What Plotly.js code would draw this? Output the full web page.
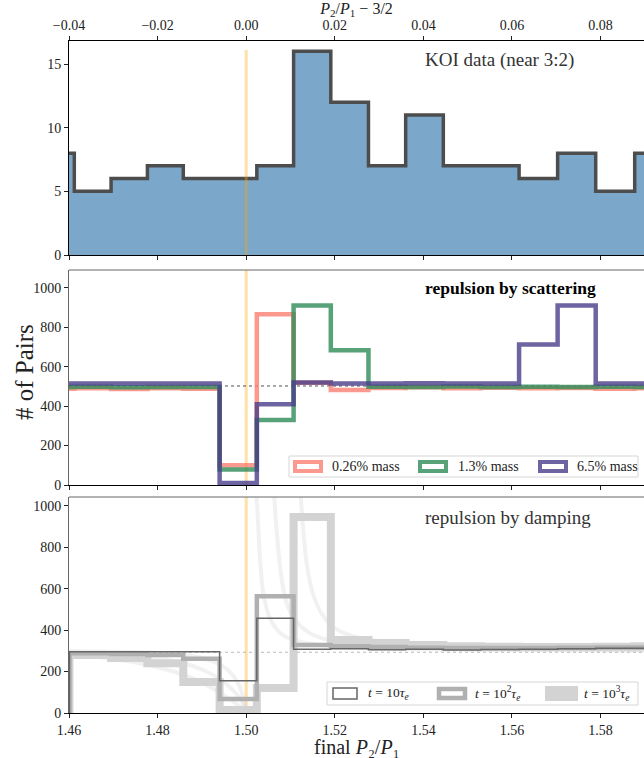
<!DOCTYPE html>
<html><head><meta charset="utf-8">
<script src="https://cdn.plot.ly/plotly-3.0.1.min.js"></script>
<style>html,body{margin:0;padding:0;background:#fff}#chart{width:644px;height:758px}</style>
</head><body><div id="chart"></div>
<script>
// ---------- data ----------
const binEdges = [1.4527, 1.4612, 1.4695, 1.4777, 1.4858, 1.4940, 1.5024, 1.5107, 1.5191, 1.5276, 1.5360, 1.5445, 1.5530, 1.5616, 1.5703, 1.5789, 1.5877, 1.5965];
const koiCounts = [8, 5, 6, 7, 6, 6, 7, 16, 12, 7, 11, 7, 7, 6, 8, 5, 8];

const scatterLabels = ['0.26% mass', '1.3% mass', '6.5% mass'];
const scatterLow  = [488, 490, 487, 490, 488, 100, 866, 518, 482, 492, 495, 490, 493, 490, 492, 488, 490];
const scatterMid  = [497, 498, 496, 497, 497, 78, 330, 910, 683, 498, 497, 499, 497, 498, 497, 498, 497];
const scatterHigh = [515, 515, 515, 515, 515, 10, 409, 520, 515, 515, 516, 515, 515, 712, 910, 515, 515];
const scatterRef = 502;

const dampLabels = ['t = 10τe', 't = 10²τe', 't = 10³τe'];
const dampStart = 1.4601;
const damp1 = [295, 295, 295, 295, 155, 457, 308, 310, 305, 307, 304, 306, 308, 310, 312, 312];
const damp2 = [288, 285, 280, 262, 68, 563, 328, 322, 318, 315, 314, 313, 314, 315, 316, 316];
const damp3 = [280, 265, 240, 150, 15, 120, 945, 352, 338, 328, 322, 320, 318, 318, 320, 322];
const dampRef = 293;

// faint curves
const fadeALeftX  = [1.46, 1.47, 1.48, 1.488, 1.493, 1.496, 1.498, 1.499, 1.4998];
const fadeALeftY  = [298, 296, 290, 275, 245, 205, 150, 100, 20];
const fadeARightX = [1.5022, 1.5026, 1.5032, 1.504, 1.5055, 1.508, 1.512, 1.52, 1.53, 1.55, 1.5898];
const fadeARightY = [1100, 950, 720, 560, 450, 380, 345, 322, 312, 305, 302];
const fadeBLeftX  = [1.46, 1.47, 1.478, 1.485, 1.49, 1.494, 1.497, 1.499, 1.4999];
const fadeBLeftY  = [292, 285, 270, 245, 210, 165, 110, 55, 10];
const fadeBRightX = [1.5062, 1.5068, 1.5078, 1.509, 1.511, 1.514, 1.518, 1.525, 1.54, 1.5898];
const fadeBRightY = [1100, 900, 680, 540, 450, 390, 355, 332, 316, 305];
const fadeCLeftX  = [1.46, 1.465, 1.47, 1.476, 1.482, 1.487, 1.491, 1.495, 1.498, 1.4999];
const fadeCLeftY  = [285, 275, 262, 240, 210, 175, 135, 85, 40, 5];
const fadeCRightX = [1.5122, 1.5128, 1.5138, 1.515, 1.517, 1.52, 1.525, 1.532, 1.545, 1.565, 1.5898];
const fadeCRightY = [1100, 900, 700, 580, 480, 410, 365, 340, 322, 312, 308];

const resonance = 1.5;
const xTicks = [1.46, 1.48, 1.50, 1.52, 1.54, 1.56, 1.58];
const topTicks = [-0.04, -0.02, 0.00, 0.02, 0.04, 0.06, 0.08];

// ---------- helpers ----------
function stepXY(edges, vals, fromZero) {
  const xs = [], ys = [];
  if (fromZero) { xs.push(edges[0]); ys.push(0); }
  for (let i = 0; i < vals.length; i++) { xs.push(edges[i]); ys.push(vals[i]); }
  xs.push(edges[vals.length]); ys.push(vals[vals.length - 1]);
  return {x: xs, y: ys};
}
const W = 644, H = 758, L = 69, PW = 575;
const px = v => (v - L) / PW;
const py = v => (H - v) / H;
const FONT = 'Liberation Serif, Times New Roman, serif';

const traces = [];
// ----- top panel -----
const koiX = binEdges.map(e => e - resonance);
const koi = stepXY(koiX, koiCounts, false);
traces.push({x: koi.x, y: koi.y, xaxis: 'x', yaxis: 'y', mode: 'lines', line: {shape: 'hv', color: '#4d4d4d', width: 3.5},
  fill: 'tozeroy', fillcolor: '#7ba7cb', showlegend: false, hoverinfo: 'skip'});
traces.push({x: [0, 0], y: [0, 16.1], xaxis: 'x', yaxis: 'y', mode: 'lines', line: {color: 'rgba(255,165,0,0.35)', width: 3}, showlegend: false});

// ----- middle panel -----
traces.push({x: [resonance, resonance], y: [0, 1090], xaxis: 'x2', yaxis: 'y2', mode: 'lines', line: {color: 'rgba(255,165,0,0.35)', width: 3}, showlegend: false});
traces.push({x: [1.46, 1.5898], y: [scatterRef, scatterRef], xaxis: 'x2', yaxis: 'y2', mode: 'lines', line: {color: '#222', width: 0.8, dash: 'dot'}, showlegend: false});
const scatCols = ['rgba(250,128,114,0.8)', 'rgba(46,139,87,0.8)', 'rgba(72,61,139,0.8)'];
[scatterLow, scatterMid, scatterHigh].forEach((vals, i) => {
  const s = stepXY(binEdges, vals, false);
  traces.push({x: s.x, y: s.y, xaxis: 'x2', yaxis: 'y2', mode: 'lines', name: scatterLabels[i],
    line: {shape: 'hv', color: scatCols[i], width: 4.5}, showlegend: false});
});

// ----- bottom panel -----
traces.push({x: [resonance, resonance], y: [0, 1042], xaxis: 'x3', yaxis: 'y3', mode: 'lines', line: {color: 'rgba(255,165,0,0.35)', width: 3}, showlegend: false});
[[fadeALeftX, fadeALeftY], [fadeARightX, fadeARightY], [fadeBLeftX, fadeBLeftY], [fadeBRightX, fadeBRightY],
 [fadeCLeftX, fadeCLeftY], [fadeCRightX, fadeCRightY]].forEach(([xx, yy]) => {
  traces.push({x: xx, y: yy, xaxis: 'x3', yaxis: 'y3', mode: 'lines', line: {color: 'rgba(215,215,215,0.35)', width: 4, shape: 'spline'}, showlegend: false});
});
traces.push({x: [1.46, 1.5898], y: [dampRef, dampRef], xaxis: 'x3', yaxis: 'y3', mode: 'lines', line: {color: '#aaa', width: 0.8, dash: 'dot'}, showlegend: false});
const dampEdges = [dampStart].concat(binEdges.slice(2));
const dampStyles = [{color: '#d3d3d3', width: 8}, {color: '#b0b0b0', width: 4.5}, {color: '#666666', width: 1.5}];
[damp3, damp2, damp1].forEach((vals, i) => {
  const s = stepXY(dampEdges, vals, true);
  traces.push({x: s.x, y: s.y, xaxis: 'x3', yaxis: 'y3', mode: 'lines', name: dampLabels[2 - i],
    line: {shape: 'hv', color: dampStyles[i].color, width: dampStyles[i].width}, showlegend: false});
});

// ---------- layout ----------
const tickFont = {family: FONT, size: 14, color: '#222'};
const axBase = {showgrid: false, zeroline: false, ticks: 'outside', ticklen: 4, tickwidth: 1, tickcolor: '#222',
  tickfont: tickFont, automargin: false, showline: true, linewidth: 1};

const shapes = [
  {type: 'line', xref: 'paper', yref: 'paper', x0: 0, x1: 1, y0: py(270), y1: py(270), line: {color: '#666', width: 1}},
  {type: 'line', xref: 'paper', yref: 'paper', x0: 0, x1: 1, y0: py(497), y1: py(497), line: {color: '#666', width: 1}},
  {type: 'rect', xref: 'paper', yref: 'paper', x0: px(289), x1: px(638), y0: py(477), y1: py(456), line: {color: '#d6d6d6', width: 1}, fillcolor: 'rgba(255,255,255,0.85)'},
  {type: 'rect', xref: 'paper', yref: 'paper', x0: px(327), x1: px(638), y0: py(705), y1: py(682), line: {color: '#d6d6d6', width: 1}, fillcolor: 'rgba(255,255,255,0.85)'},
  {type: 'rect', xref: 'paper', yref: 'paper', x0: px(295), x1: px(321), y0: py(471), y1: py(462), line: {color: scatCols[0], width: 4}},
  {type: 'rect', xref: 'paper', yref: 'paper', x0: px(420), x1: px(446), y0: py(471), y1: py(462), line: {color: scatCols[1], width: 4}},
  {type: 'rect', xref: 'paper', yref: 'paper', x0: px(540), x1: px(566), y0: py(471), y1: py(462), line: {color: scatCols[2], width: 4}},
  {type: 'rect', xref: 'paper', yref: 'paper', x0: px(333), x1: px(357), y0: py(699), y1: py(688), line: {color: '#666', width: 1.5}},
  {type: 'rect', xref: 'paper', yref: 'paper', x0: px(439), x1: px(465), y0: py(698), y1: py(689), line: {color: '#b0b0b0', width: 4.5}},
  {type: 'rect', xref: 'paper', yref: 'paper', x0: px(549), x1: px(574), y0: py(697), y1: py(690), line: {color: '#d3d3d3', width: 8}}
];

const legFont = {family: FONT, size: 14, color: '#222'};
const legFont2 = {family: FONT, size: 13.5, color: '#222'};
const annotations = [
  {xref: 'x', yref: 'paper', x: 0.04, y: py(60), text: 'KOI data (near 3:2)', showarrow: false, xanchor: 'left', yanchor: 'middle', font: {family: FONT, size: 19, color: '#333'}},
  {xref: 'x2', yref: 'paper', x: 1.54, y: py(288), text: '<b>repulsion by scattering</b>', showarrow: false, xanchor: 'left', yanchor: 'middle', font: {family: FONT, size: 17.5, color: '#000'}},
  {xref: 'x3', yref: 'paper', x: 1.54, y: py(517), text: 'repulsion by damping', showarrow: false, xanchor: 'left', yanchor: 'middle', font: {family: FONT, size: 19, color: '#333'}},
  {xref: 'paper', yref: 'paper', x: px(24), y: py(372), text: '# of Pairs', textangle: -90, showarrow: false, xanchor: 'center', yanchor: 'middle', font: {family: FONT, size: 25, color: '#222'}},
  {xref: 'paper', yref: 'paper', x: 0.5, y: py(747), height: 22, text: 'final <i>P</i>₂/<i>P</i>₁', showarrow: false, xanchor: 'center', yanchor: 'middle', font: {family: FONT, size: 20, color: '#222'}},
  {xref: 'paper', yref: 'paper', x: px(330), y: py(466), text: scatterLabels[0], showarrow: false, xanchor: 'left', yanchor: 'middle', font: legFont},
  {xref: 'paper', yref: 'paper', x: px(456), y: py(466), text: scatterLabels[1], showarrow: false, xanchor: 'left', yanchor: 'middle', font: legFont},
  {xref: 'paper', yref: 'paper', x: px(575), y: py(466), text: scatterLabels[2], showarrow: false, xanchor: 'left', yanchor: 'middle', font: legFont},
  {xref: 'paper', yref: 'paper', x: px(366), y: py(693), text: '<i>t</i> = 10<i>τ</i><sub><i>e</i></sub>', showarrow: false, xanchor: 'left', yanchor: 'middle', font: legFont2},
  {xref: 'paper', yref: 'paper', x: px(473), y: py(693), text: '<i>t</i> = 10<sup>2</sup><i>τ</i><sub><i>e</i></sub>', showarrow: false, xanchor: 'left', yanchor: 'middle', font: legFont2},
  {xref: 'paper', yref: 'paper', x: px(582), y: py(693), text: '<i>t</i> = 10<sup>3</sup><i>τ</i><sub><i>e</i></sub>', showarrow: false, xanchor: 'left', yanchor: 'middle', font: legFont2}
];

const layout = {
  width: W, height: H, margin: {l: L, r: 0, t: 0, b: 0}, paper_bgcolor: '#fff', plot_bgcolor: 'rgba(0,0,0,0)',
  showlegend: false, font: {family: FONT, color: '#222'},
  xaxis: Object.assign({}, axBase, {anchor: 'y', side: 'top', range: [-0.04, 0.0898], tickvals: topTicks, tickformat: '.2f',
    linecolor: '#000', mirror: 'ticks',
    title: {text: '<i>P</i><sub>2</sub>/<i>P</i><sub>1</sub> − 3/2', font: {family: FONT, size: 16, color: '#222'}, standoff: 3}}),
  yaxis: Object.assign({}, axBase, {domain: [py(255), py(40.7)], range: [0, 16.83], tickvals: [0, 5, 10, 15], linecolor: '#000'}),
  xaxis2: Object.assign({}, axBase, {anchor: 'y2', range: [1.46, 1.5898], tickvals: xTicks, showticklabels: false, linecolor: '#000'}),
  yaxis2: Object.assign({}, axBase, {domain: [py(485), py(270)], range: [0, 1090], tickvals: [0, 200, 400, 600, 800, 1000], linecolor: '#666'}),
  xaxis3: Object.assign({}, axBase, {anchor: 'y3', range: [1.46, 1.5898], tickvals: xTicks, tickformat: '.2f', linecolor: '#000'}),
  yaxis3: Object.assign({}, axBase, {domain: [py(713), py(497)], range: [0, 1042], tickvals: [0, 200, 400, 600, 800, 1000], linecolor: '#666'}),
  shapes: shapes, annotations: annotations
};

Plotly.newPlot('chart', traces, layout, {displayModeBar: false, staticPlot: true});
</script></body></html>
